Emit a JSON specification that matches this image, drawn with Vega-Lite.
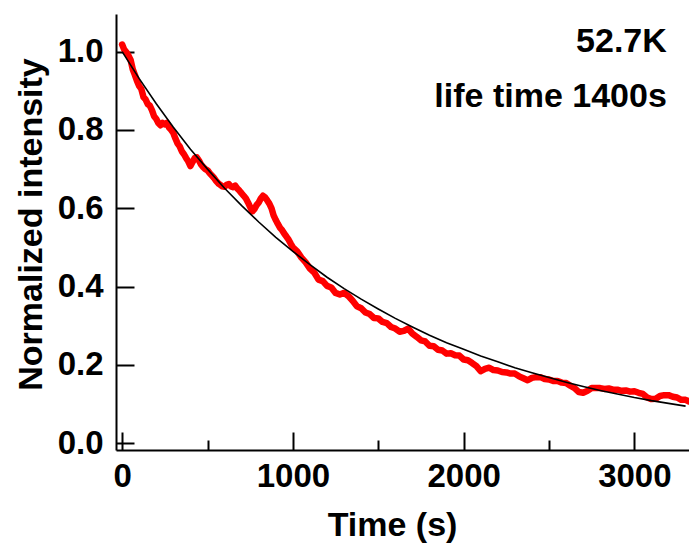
{
  "$schema": "https://vega.github.io/schema/vega-lite/v6.json",
  "width": 573,
  "height": 436,
  "autosize": "none",
  "padding": {"left": 116, "top": 14, "right": 0, "bottom": 98},
  "config": {
    "view": {"stroke": null},
    "font": "Liberation Sans",
    "axis": {
      "grid": false,
      "domainColor": "black",
      "domainWidth": 2,
      "tickColor": "black",
      "tickWidth": 2,
      "labelColor": "black",
      "labelFont": "Liberation Sans",
      "labelFontWeight": "bold",
      "labelFontSize": 33,
      "titleColor": "black",
      "titleFont": "Liberation Sans",
      "titleFontWeight": "bold",
      "titleFontSize": 34
    }
  },
  "datasets": {
    "measured": [
      {"t": 0, "v": 1.018}, {"t": 12, "v": 1.005}, {"t": 25, "v": 0.998}, {"t": 37, "v": 0.99},
      {"t": 50, "v": 0.978}, {"t": 62, "v": 0.955}, {"t": 75, "v": 0.94}, {"t": 87, "v": 0.925},
      {"t": 100, "v": 0.912}, {"t": 112, "v": 0.905}, {"t": 125, "v": 0.884}, {"t": 137, "v": 0.878},
      {"t": 150, "v": 0.866}, {"t": 162, "v": 0.862}, {"t": 175, "v": 0.85}, {"t": 187, "v": 0.835},
      {"t": 200, "v": 0.828}, {"t": 212, "v": 0.818}, {"t": 225, "v": 0.812}, {"t": 237, "v": 0.818},
      {"t": 250, "v": 0.814}, {"t": 262, "v": 0.818}, {"t": 275, "v": 0.806}, {"t": 287, "v": 0.8},
      {"t": 300, "v": 0.792}, {"t": 312, "v": 0.778}, {"t": 325, "v": 0.765}, {"t": 337, "v": 0.758},
      {"t": 350, "v": 0.745}, {"t": 362, "v": 0.738}, {"t": 375, "v": 0.728}, {"t": 387, "v": 0.72},
      {"t": 400, "v": 0.708}, {"t": 412, "v": 0.718}, {"t": 425, "v": 0.728}, {"t": 437, "v": 0.73},
      {"t": 450, "v": 0.722}, {"t": 462, "v": 0.712}, {"t": 475, "v": 0.705}, {"t": 487, "v": 0.7},
      {"t": 500, "v": 0.697}, {"t": 512, "v": 0.69}, {"t": 525, "v": 0.684}, {"t": 537, "v": 0.678},
      {"t": 550, "v": 0.67}, {"t": 562, "v": 0.664}, {"t": 575, "v": 0.66}, {"t": 587, "v": 0.656},
      {"t": 600, "v": 0.655}, {"t": 612, "v": 0.66}, {"t": 625, "v": 0.662}, {"t": 637, "v": 0.656},
      {"t": 650, "v": 0.654}, {"t": 662, "v": 0.658}, {"t": 675, "v": 0.65}, {"t": 687, "v": 0.645},
      {"t": 700, "v": 0.638}, {"t": 712, "v": 0.632}, {"t": 725, "v": 0.625}, {"t": 737, "v": 0.615},
      {"t": 750, "v": 0.603}, {"t": 762, "v": 0.592}, {"t": 775, "v": 0.598}, {"t": 787, "v": 0.608},
      {"t": 800, "v": 0.615}, {"t": 812, "v": 0.625}, {"t": 825, "v": 0.632}, {"t": 837, "v": 0.628},
      {"t": 850, "v": 0.62}, {"t": 862, "v": 0.612}, {"t": 875, "v": 0.6}, {"t": 887, "v": 0.582},
      {"t": 900, "v": 0.57}, {"t": 912, "v": 0.56}, {"t": 925, "v": 0.55}, {"t": 937, "v": 0.544},
      {"t": 950, "v": 0.535}, {"t": 962, "v": 0.528}, {"t": 975, "v": 0.52}, {"t": 987, "v": 0.51},
      {"t": 1000, "v": 0.5}, {"t": 1025, "v": 0.49}, {"t": 1050, "v": 0.474}, {"t": 1075, "v": 0.462},
      {"t": 1100, "v": 0.446}, {"t": 1125, "v": 0.436}, {"t": 1150, "v": 0.418}, {"t": 1175, "v": 0.414},
      {"t": 1200, "v": 0.402}, {"t": 1225, "v": 0.398}, {"t": 1250, "v": 0.384}, {"t": 1275, "v": 0.38},
      {"t": 1300, "v": 0.384}, {"t": 1325, "v": 0.376}, {"t": 1350, "v": 0.364}, {"t": 1375, "v": 0.35},
      {"t": 1400, "v": 0.345}, {"t": 1425, "v": 0.334}, {"t": 1450, "v": 0.33}, {"t": 1475, "v": 0.32},
      {"t": 1500, "v": 0.319}, {"t": 1525, "v": 0.31}, {"t": 1550, "v": 0.307}, {"t": 1575, "v": 0.297},
      {"t": 1600, "v": 0.293}, {"t": 1625, "v": 0.285}, {"t": 1650, "v": 0.287}, {"t": 1675, "v": 0.293},
      {"t": 1700, "v": 0.28}, {"t": 1725, "v": 0.272}, {"t": 1750, "v": 0.263}, {"t": 1775, "v": 0.26},
      {"t": 1800, "v": 0.249}, {"t": 1825, "v": 0.248}, {"t": 1850, "v": 0.239}, {"t": 1875, "v": 0.237},
      {"t": 1900, "v": 0.229}, {"t": 1925, "v": 0.23}, {"t": 1950, "v": 0.225}, {"t": 1975, "v": 0.224},
      {"t": 2000, "v": 0.214}, {"t": 2025, "v": 0.212}, {"t": 2050, "v": 0.205}, {"t": 2075, "v": 0.197},
      {"t": 2100, "v": 0.184}, {"t": 2125, "v": 0.19}, {"t": 2150, "v": 0.193}, {"t": 2175, "v": 0.187},
      {"t": 2200, "v": 0.186}, {"t": 2225, "v": 0.182}, {"t": 2250, "v": 0.181}, {"t": 2275, "v": 0.178},
      {"t": 2300, "v": 0.178}, {"t": 2325, "v": 0.171}, {"t": 2350, "v": 0.166}, {"t": 2375, "v": 0.161},
      {"t": 2400, "v": 0.167}, {"t": 2425, "v": 0.169}, {"t": 2450, "v": 0.169}, {"t": 2475, "v": 0.164},
      {"t": 2500, "v": 0.163}, {"t": 2525, "v": 0.159}, {"t": 2550, "v": 0.159}, {"t": 2575, "v": 0.155},
      {"t": 2600, "v": 0.154}, {"t": 2625, "v": 0.147}, {"t": 2650, "v": 0.141}, {"t": 2675, "v": 0.131},
      {"t": 2700, "v": 0.129}, {"t": 2725, "v": 0.134}, {"t": 2750, "v": 0.141}, {"t": 2775, "v": 0.141},
      {"t": 2800, "v": 0.141}, {"t": 2825, "v": 0.139}, {"t": 2850, "v": 0.14}, {"t": 2875, "v": 0.137},
      {"t": 2900, "v": 0.137}, {"t": 2925, "v": 0.134}, {"t": 2950, "v": 0.135}, {"t": 2975, "v": 0.132},
      {"t": 3000, "v": 0.133}, {"t": 3025, "v": 0.129}, {"t": 3050, "v": 0.126}, {"t": 3075, "v": 0.117},
      {"t": 3100, "v": 0.113}, {"t": 3125, "v": 0.114}, {"t": 3150, "v": 0.121}, {"t": 3175, "v": 0.123},
      {"t": 3200, "v": 0.123}, {"t": 3225, "v": 0.119}, {"t": 3250, "v": 0.117}, {"t": 3275, "v": 0.111},
      {"t": 3300, "v": 0.111}, {"t": 3320, "v": 0.107}
    ],
    "fit": [
      {"t": 0, "v": 1.0}, {"t": 100, "v": 0.931}, {"t": 200, "v": 0.867}, {"t": 300, "v": 0.807},
      {"t": 400, "v": 0.751}, {"t": 500, "v": 0.7}, {"t": 600, "v": 0.651}, {"t": 700, "v": 0.607},
      {"t": 800, "v": 0.565}, {"t": 900, "v": 0.526}, {"t": 1000, "v": 0.49}, {"t": 1100, "v": 0.456},
      {"t": 1200, "v": 0.424}, {"t": 1300, "v": 0.395}, {"t": 1400, "v": 0.368}, {"t": 1500, "v": 0.343},
      {"t": 1600, "v": 0.319}, {"t": 1700, "v": 0.297}, {"t": 1800, "v": 0.276}, {"t": 1900, "v": 0.257},
      {"t": 2000, "v": 0.24}, {"t": 2100, "v": 0.223}, {"t": 2200, "v": 0.208}, {"t": 2300, "v": 0.193},
      {"t": 2400, "v": 0.18}, {"t": 2500, "v": 0.168}, {"t": 2600, "v": 0.156}, {"t": 2700, "v": 0.145},
      {"t": 2800, "v": 0.135}, {"t": 2900, "v": 0.126}, {"t": 3000, "v": 0.117}, {"t": 3100, "v": 0.109},
      {"t": 3200, "v": 0.102}, {"t": 3300, "v": 0.095}
    ]
  },
  "layer": [
    {
      "data": {"name": "measured"},
      "mark": {"type": "line", "color": "#ff0000", "strokeWidth": 6.5, "strokeJoin": "round", "strokeCap": "round", "clip": true},
      "encoding": {
        "x": {
          "field": "t", "type": "quantitative",
          "scale": {"domain": [-36, 3320], "nice": false, "zero": false},
          "axis": {
            "values": [0, 500, 1000, 1500, 2000, 2500, 3000],
            "labelExpr": "datum.value % 1000 === 0 ? datum.value : ''",
            "tickSize": {"condition": {"test": "datum.value % 1000 === 0", "value": -18}, "value": -10},
            "labelPadding": 28,
            "title": "Time (s)",
            "titlePadding": 15,
            "titleX": 276
          }
        },
        "y": {
          "field": "v", "type": "quantitative",
          "scale": {"domain": [-0.017, 1.096], "nice": false, "zero": false},
          "axis": {
            "values": [0, 0.2, 0.4, 0.6, 0.8, 1.0],
            "format": ".1f",
            "tickSize": -18,
            "labelPadding": 31,
            "title": "Normalized intensity",
            "titlePadding": 9,
            "titleY": 210
          }
        }
      }
    },
    {
      "data": {"name": "fit"},
      "mark": {"type": "line", "color": "black", "strokeWidth": 1.6, "clip": true},
      "encoding": {
        "x": {"field": "t", "type": "quantitative"},
        "y": {"field": "v", "type": "quantitative"}
      }
    },
    {
      "mark": {"type": "rule", "color": "black", "strokeWidth": 2},
      "encoding": {"y": {"datum": 1.096}}
    },
    {
      "data": {"values": [{"label": "52.7K"}]},
      "mark": {"type": "text", "align": "right", "baseline": "middle", "font": "Liberation Sans", "fontWeight": "bold", "fontSize": 34, "color": "black"},
      "encoding": {"x": {"datum": 3190}, "y": {"datum": 1.025}, "text": {"field": "label"}}
    },
    {
      "data": {"values": [{"label": "life time 1400s"}]},
      "mark": {"type": "text", "align": "right", "baseline": "middle", "font": "Liberation Sans", "fontWeight": "bold", "fontSize": 34, "color": "black"},
      "encoding": {"x": {"datum": 3190}, "y": {"datum": 0.884}, "text": {"field": "label"}}
    }
  ]
}
